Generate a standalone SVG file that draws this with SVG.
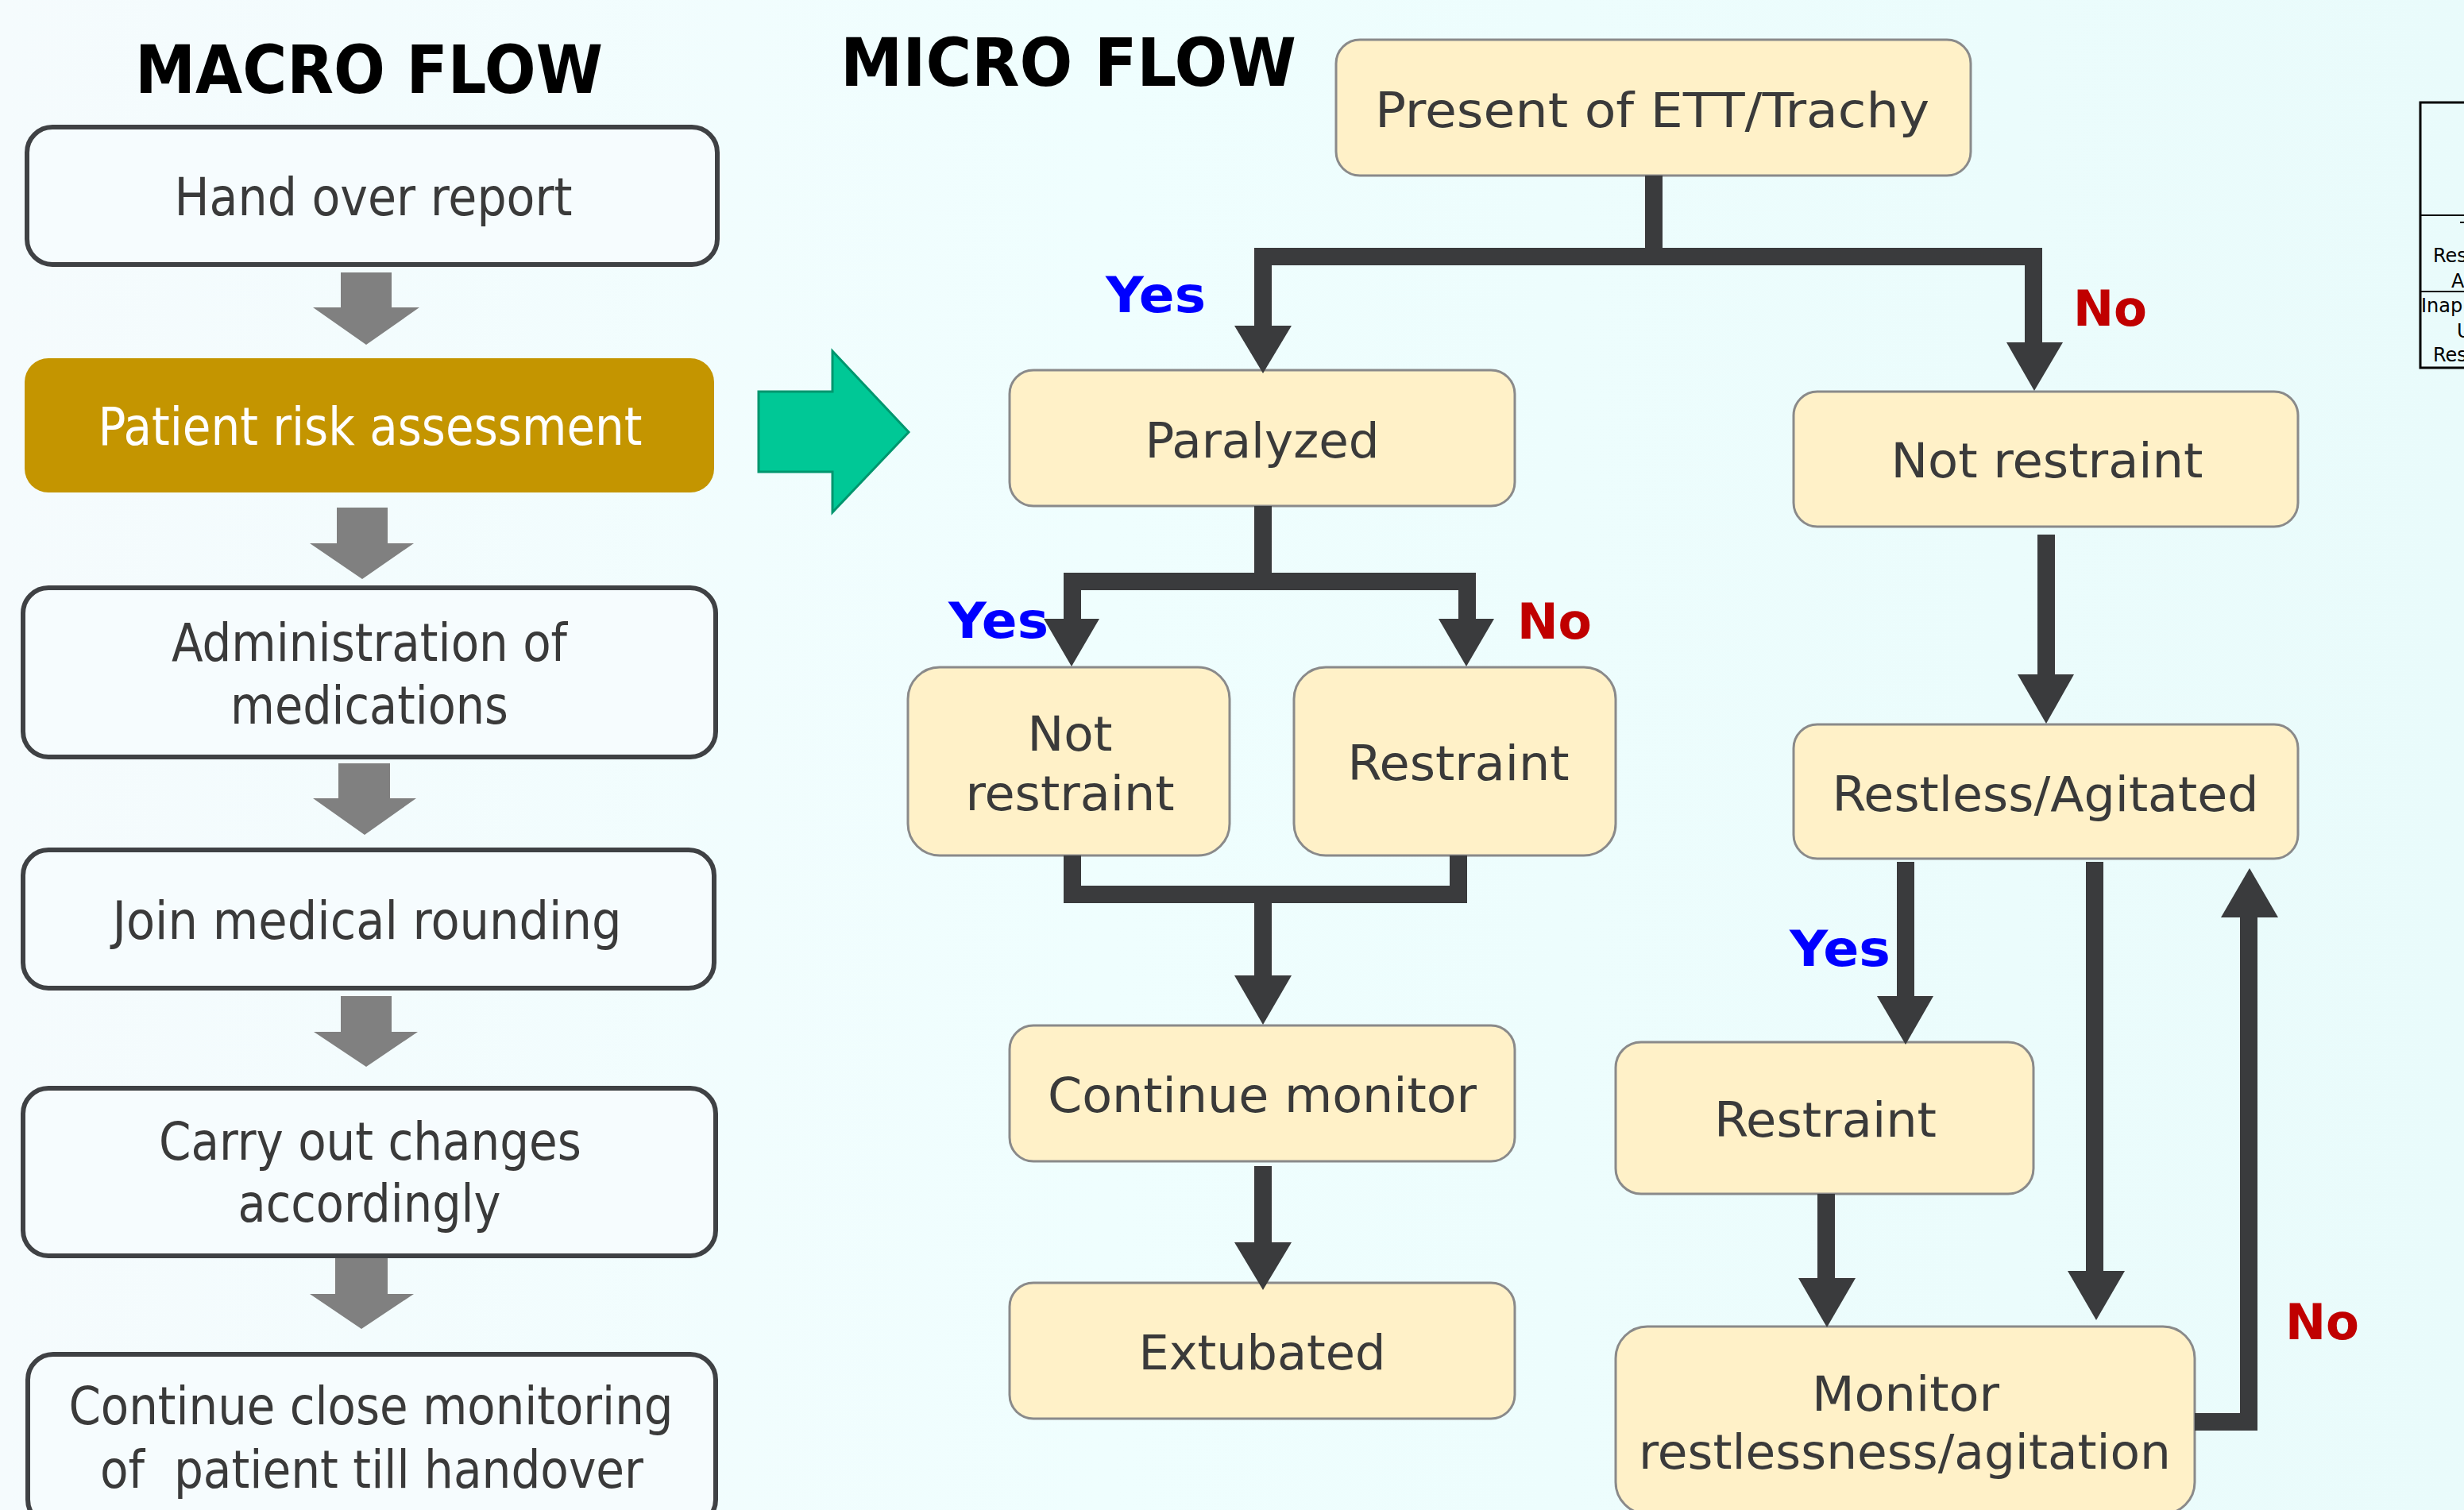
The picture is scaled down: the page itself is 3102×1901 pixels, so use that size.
<svg xmlns="http://www.w3.org/2000/svg" width="3102" height="1901" viewBox="0 0 3102 1901">
<defs>
<linearGradient id="bg" x1="0" y1="0" x2="1" y2="0">
<stop offset="0" stop-color="#f5fbfd"/>
<stop offset="0.45" stop-color="#effefe"/>
<stop offset="1" stop-color="#e9fbfb"/>
</linearGradient>
<style>
.t{font-family:"DejaVu Sans Condensed","DejaVu Sans",sans-serif;fill:#3a3a3a;text-anchor:middle}
.mt{font-size:66px}
.ut{font-size:61px}
.title{font-family:"DejaVu Sans","Liberation Sans",sans-serif;font-weight:bold;font-size:84px;fill:#000}
.lbl{font-family:"DejaVu Sans","Liberation Sans",sans-serif;font-weight:bold;font-size:62px}
.yes{fill:#0000ff}
.no{fill:#c00000}
.mbox{fill:#f6fcfe;stroke:#3f4144;stroke-width:6}
.ubox{fill:#fff1c8;stroke:#8a8a8a;stroke-width:3}
.gar{fill:#808080}
.ln{fill:none;stroke:#3a3b3d;stroke-width:22}
.hd{fill:#3a3b3d}
.tb{font-family:"DejaVu Sans","Liberation Sans",sans-serif;font-size:24px;fill:#000}
</style>
</defs>
<rect x="0" y="0" width="3102" height="1901" fill="url(#bg)"/>

<text class="title" x="170" y="117" textLength="589" lengthAdjust="spacingAndGlyphs">MACRO FLOW</text>
<text class="title" x="1058" y="108" textLength="574" lengthAdjust="spacingAndGlyphs">MICRO FLOW</text>

<!-- Macro flow -->
<g id="macro-handover">
<rect class="mbox" x="34" y="160" width="869" height="173" rx="32"/>
<text class="t mt" x="470" y="271" textLength="501" lengthAdjust="spacingAndGlyphs">Hand over report</text>
</g>
<g id="macro-risk">
<rect x="31" y="451" width="868" height="169" rx="30" fill="#c49500"/>
<text class="t mt" x="466" y="560" textLength="685" lengthAdjust="spacingAndGlyphs" style="fill:#ffffff">Patient risk assessment</text>
</g>
<g id="macro-admin">
<rect class="mbox" x="29" y="740" width="872" height="213" rx="32"/>
<text class="t mt" x="465" y="832" textLength="498" lengthAdjust="spacingAndGlyphs">Administration of</text>
<text class="t mt" x="465" y="911" textLength="350" lengthAdjust="spacingAndGlyphs">medications</text>
</g>
<g id="macro-rounding">
<rect class="mbox" x="29" y="1070" width="870" height="174" rx="32"/>
<text class="t mt" x="462" y="1182" textLength="641" lengthAdjust="spacingAndGlyphs">Join medical rounding</text>
</g>
<g id="macro-carry">
<rect class="mbox" x="29" y="1370" width="872" height="211" rx="32"/>
<text class="t mt" x="466" y="1460" textLength="532" lengthAdjust="spacingAndGlyphs">Carry out changes</text>
<text class="t mt" x="465" y="1538" textLength="331" lengthAdjust="spacingAndGlyphs">accordingly</text>
</g>
<g id="macro-continue">
<rect class="mbox" x="35" y="1705" width="866" height="215" rx="32"/>
<text class="t mt" x="467" y="1793" textLength="761" lengthAdjust="spacingAndGlyphs">Continue close monitoring</text>
<text class="t mt" x="468" y="1873" textLength="684" lengthAdjust="spacingAndGlyphs" xml:space="preserve">of  patient till handover</text>
</g>

<g id="macro-arrows">
<polygon class="gar" points="429,343 493,343 493,387 528,387 461,434 394,387 429,387"/>
<polygon class="gar" points="424,639 488,639 488,684 521,684 456,729 390,684 424,684"/>
<polygon class="gar" points="426,961 491,961 491,1005 524,1005 459,1051 394,1005 426,1005"/>
<polygon class="gar" points="429,1254 493,1254 493,1299 526,1299 461,1343 395,1299 429,1299"/>
<polygon class="gar" points="422,1584 488,1584 488,1629 521,1629 455,1673 390,1629 422,1629"/>
</g>

<g id="green-arrow">
<polygon points="955,493 1048,493 1048,442 1144,544 1048,645 1048,594 955,594" fill="#00c896" stroke="#00966e" stroke-width="3"/>
</g>

<!-- Micro flow nodes -->
<g id="present">
<rect class="ubox" x="1682" y="50" width="799" height="171" rx="30"/>
<text class="t ut" x="2080" y="160" textLength="698" lengthAdjust="spacingAndGlyphs">Present of ETT/Trachy</text>
</g>
<g id="paralyzed">
<rect class="ubox" x="1271" y="466" width="636" height="171" rx="30"/>
<text class="t ut" x="1589" y="576" textLength="295" lengthAdjust="spacingAndGlyphs">Paralyzed</text>
</g>
<g id="not-restraint-left">
<rect class="ubox" x="1143" y="840" width="405" height="237" rx="40"/>
<text class="t ut" x="1347" y="945" textLength="107" lengthAdjust="spacingAndGlyphs">Not</text>
<text class="t ut" x="1347" y="1020" textLength="263" lengthAdjust="spacingAndGlyphs">restraint</text>
</g>
<g id="restraint-left">
<rect class="ubox" x="1629" y="840" width="405" height="237" rx="40"/>
<text class="t ut" x="1836" y="982" textLength="279" lengthAdjust="spacingAndGlyphs">Restraint</text>
</g>
<g id="continue-monitor">
<rect class="ubox" x="1271" y="1291" width="636" height="171" rx="30"/>
<text class="t ut" x="1589" y="1400" textLength="540" lengthAdjust="spacingAndGlyphs">Continue monitor</text>
</g>
<g id="extubated">
<rect class="ubox" x="1271" y="1615" width="636" height="171" rx="30"/>
<text class="t ut" x="1589" y="1724" textLength="311" lengthAdjust="spacingAndGlyphs">Extubated</text>
</g>
<g id="not-restraint-right">
<rect class="ubox" x="2258" y="493" width="635" height="170" rx="30"/>
<text class="t ut" x="2577" y="601" textLength="393" lengthAdjust="spacingAndGlyphs">Not restraint</text>
</g>
<g id="restless">
<rect class="ubox" x="2258" y="912" width="635" height="169" rx="30"/>
<text class="t ut" x="2575" y="1021" textLength="537" lengthAdjust="spacingAndGlyphs">Restless/Agitated</text>
</g>
<g id="restraint-right">
<rect class="ubox" x="2034" y="1312" width="526" height="191" rx="32"/>
<text class="t ut" x="2298" y="1431" textLength="280" lengthAdjust="spacingAndGlyphs">Restraint</text>
</g>
<g id="monitor">
<rect class="ubox" x="2034" y="1670" width="729" height="236" rx="40"/>
<text class="t ut" x="2399" y="1776" textLength="236" lengthAdjust="spacingAndGlyphs">Monitor</text>
<text class="t ut" x="2398" y="1849" textLength="670" lengthAdjust="spacingAndGlyphs">restlessness/agitation</text>
</g>

<!-- Connectors -->
<g id="connectors">
<path class="ln" d="M2082,221 V323 M1579,323 H2571 M1590,312 V412 M2560,312 V433"/>
<polygon class="hd" points="1554,410 1626,410 1590,470"/>
<polygon class="hd" points="2526,431 2597,431 2561,492"/>

<path class="ln" d="M1590,637 V732 M1339,732 H1858 M1350,721 V781 M1847,721 V781"/>
<polygon class="hd" points="1314,779 1384,779 1349,839"/>
<polygon class="hd" points="1811,779 1881,779 1846,839"/>

<path class="ln" d="M1350,1077 V1126 H1836 V1077 M1590,1126 V1230"/>
<polygon class="hd" points="1554,1228 1626,1228 1590,1290"/>

<path class="ln" d="M1590,1468 V1566"/>
<polygon class="hd" points="1554,1564 1626,1564 1590,1624"/>

<path class="ln" d="M2576,673 V851"/>
<polygon class="hd" points="2540,849 2611,849 2576,911"/>

<path class="ln" d="M2399,1085 V1256"/>
<polygon class="hd" points="2363,1254 2434,1254 2399,1315"/>

<path class="ln" d="M2299,1503 V1611"/>
<polygon class="hd" points="2264,1609 2336,1609 2300,1671"/>

<path class="ln" d="M2637,1085 V1602"/>
<polygon class="hd" points="2603,1600 2675,1600 2639,1662"/>

<path class="ln" d="M2763,1790 H2831 V1153"/>
<polygon class="hd" points="2796,1155 2868,1155 2832,1093"/>
</g>

<g id="labels">
<text class="lbl yes" x="1392" y="393" textLength="126" lengthAdjust="spacingAndGlyphs">Yes</text>
<text class="lbl no" x="2610" y="410" textLength="93" lengthAdjust="spacingAndGlyphs">No</text>
<text class="lbl yes" x="1194" y="803" textLength="126" lengthAdjust="spacingAndGlyphs">Yes</text>
<text class="lbl no" x="1910" y="804" textLength="94" lengthAdjust="spacingAndGlyphs">No</text>
<text class="lbl yes" x="2253" y="1216" textLength="127" lengthAdjust="spacingAndGlyphs">Yes</text>
<text class="lbl no" x="2877" y="1686" textLength="93" lengthAdjust="spacingAndGlyphs">No</text>
</g>

<g id="table">
<rect x="3047" y="129" width="70" height="334" fill="none" stroke="#000" stroke-width="3"/>
<line x1="3047" y1="271" x2="3102" y2="271" stroke="#000" stroke-width="2"/>
<line x1="3047" y1="367" x2="3102" y2="367" stroke="#000" stroke-width="2"/>
<rect x="3097" y="279" width="5" height="2" fill="#000"/>
<text class="tb" x="3063" y="330">Res</text>
<text class="tb" x="3086" y="362">A</text>
<text class="tb" x="3048" y="393">Inap</text>
<text class="tb" x="3093" y="425">U</text>
<text class="tb" x="3063" y="455">Res</text>
</g>
</svg>
